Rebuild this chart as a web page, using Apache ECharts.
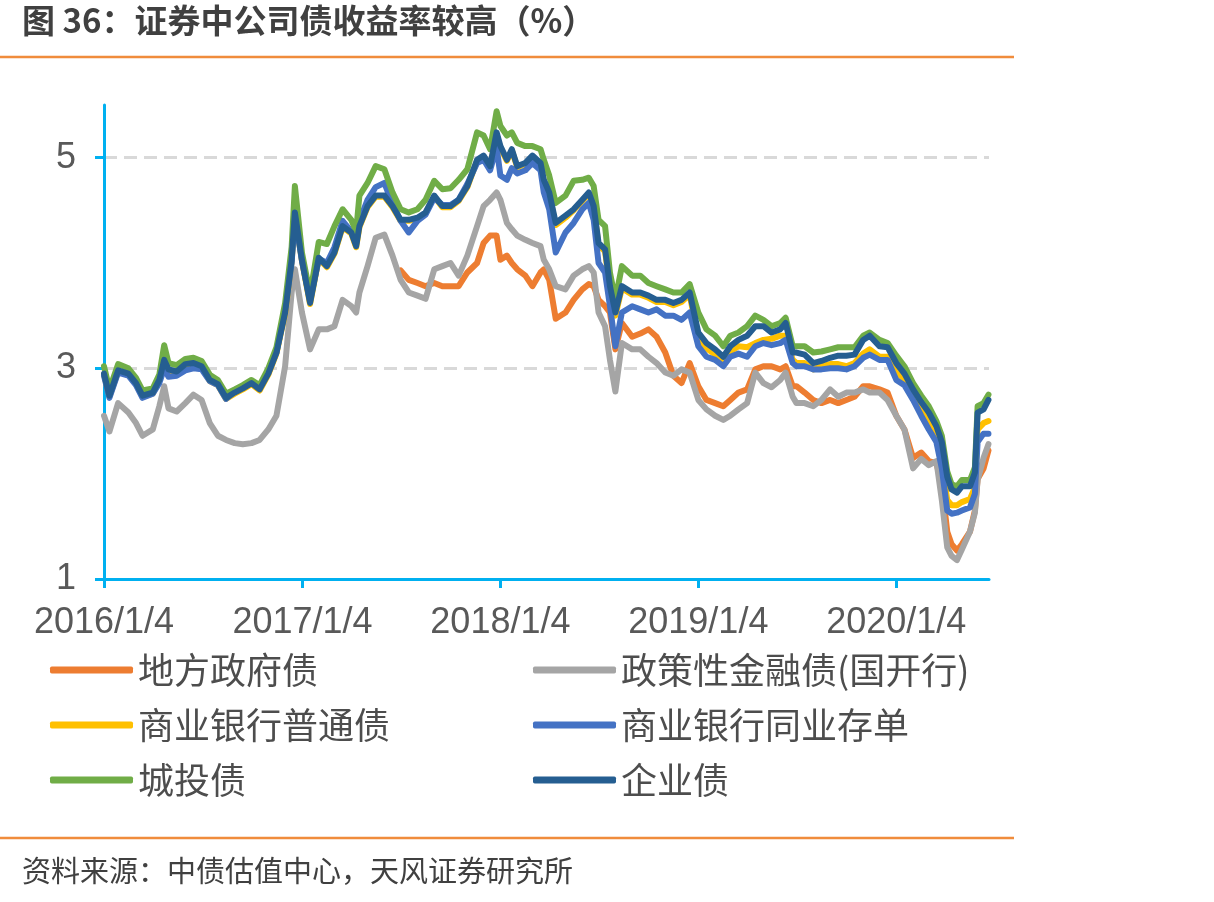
<!DOCTYPE html>
<html>
<head>
<meta charset="utf-8">
<script src="https://cdn.jsdelivr.net/npm/echarts@6/dist/echarts.min.js"></script>
<style>
  html, body { margin: 0; padding: 0; background: #fff; }
  #main { width: 1214px; height: 902px; }
</style>
</head>
<body>
<div id="main"></div>
<script>
// 序列名称（图例顺序）
var seriesNames = ['地方政府债', '政策性金融债(国开行)', '商业银行普通债', '商业银行同业存单', '城投债', '企业债'];
var seriesColors = ['#ED7D31', '#A5A5A5', '#FFC000', '#4472C4', '#70AD47', '#255E91'];

// x轴刻度
var xTickDates = ['2016-01-04', '2017-01-04', '2018-01-04', '2019-01-04', '2020-01-04'];
var xTickLabels = ['2016/1/4', '2017/1/4', '2018/1/4', '2019/1/4', '2020/1/4'];
var yTicks = [1, 3, 5];

var dates = [
    '2016-01-04','2016-01-14','2016-01-30','2016-02-18','2016-03-03','2016-03-15','2016-04-03','2016-04-15','2016-04-24','2016-05-02','2016-05-17','2016-06-02','2016-06-17','2016-07-02','2016-07-17','2016-08-01','2016-08-16','2016-09-01','2016-09-16','2016-10-02','2016-10-17','2016-11-02','2016-11-17','2016-12-03','2016-12-15','2016-12-21',
    '2017-01-03','2017-01-18','2017-02-03','2017-02-18','2017-03-04','2017-03-19','2017-04-04','2017-04-13','2017-04-19','2017-05-04','2017-05-19','2017-06-04','2017-06-19','2017-07-04','2017-07-19','2017-08-04','2017-08-19','2017-09-04','2017-09-19','2017-10-04','2017-10-19','2017-11-04','2017-11-22','2017-12-04','2017-12-16','2017-12-28',
    '2018-01-04','2018-01-16','2018-01-25','2018-02-04','2018-02-19','2018-03-04','2018-03-19','2018-03-25','2018-04-04','2018-04-16','2018-05-04','2018-05-19','2018-06-04','2018-06-16','2018-06-25','2018-07-04','2018-07-16','2018-07-25','2018-08-04','2018-08-16','2018-09-04','2018-09-19','2018-10-04','2018-10-19','2018-11-04','2018-11-19','2018-12-04','2018-12-19',
    '2019-01-04','2019-01-19','2019-02-04','2019-02-19','2019-03-04','2019-03-19','2019-04-04','2019-04-19','2019-05-04','2019-05-19','2019-06-04','2019-06-14','2019-06-27','2019-07-04','2019-07-19','2019-08-04','2019-08-19','2019-09-04','2019-09-19','2019-10-04','2019-10-19','2019-11-04','2019-11-16','2019-12-04','2019-12-19',
    '2020-01-04','2020-01-19','2020-02-04','2020-02-19','2020-03-04','2020-03-18','2020-03-28','2020-04-07','2020-04-15','2020-04-25','2020-05-04','2020-05-19','2020-05-28','2020-06-02','2020-06-13','2020-06-22'
];

// 地方政府债（2017年7月起有数据）
var localGov = [
    null,null,null,null,null,null,null,null,null,null,null,null,null,null,null,null,null,null,null,null,null,null,null,null,null,null,
    null,null,null,null,null,null,null,null,null,null,null,null,null,3.93,3.84,3.81,3.78,3.81,3.78,3.78,3.78,3.91,4.00,4.19,4.26,4.26,
    4.03,4.07,4.00,3.94,3.88,3.78,3.91,3.94,3.84,3.47,3.53,3.65,3.75,3.80,3.78,3.65,3.59,3.53,3.18,3.43,3.30,3.33,3.37,3.30,3.15,2.93,2.86,3.05,
    2.83,2.70,2.67,2.64,2.70,2.77,2.80,2.99,3.02,3.02,2.99,3.02,2.83,2.83,2.77,2.70,2.67,2.70,2.67,2.70,2.73,2.83,2.83,2.80,2.77,
    2.55,2.42,2.15,2.20,2.12,2.10,1.90,1.45,1.33,1.27,1.33,1.45,1.65,1.95,2.05,2.22
];
// 政策性金融债(国开行)
var policyBank = [
    2.55,2.40,2.67,2.58,2.48,2.36,2.42,2.64,2.83,2.62,2.59,2.67,2.75,2.70,2.48,2.36,2.32,2.29,2.28,2.29,2.32,2.42,2.55,3.02,3.72,3.94,
    3.53,3.18,3.37,3.37,3.40,3.65,3.59,3.53,3.72,3.97,4.24,4.27,4.07,3.84,3.72,3.69,3.66,3.94,3.97,4.00,3.88,4.07,4.35,4.54,4.60,4.67,
    4.60,4.38,4.32,4.26,4.22,4.19,4.16,4.03,3.94,3.78,3.75,3.88,3.94,3.97,3.91,3.53,3.40,3.08,2.78,3.24,3.18,3.18,3.11,3.05,2.96,2.93,2.99,2.96,
    2.70,2.61,2.55,2.51,2.55,2.61,2.67,2.96,2.86,2.82,2.89,2.96,2.73,2.67,2.67,2.64,2.70,2.80,2.73,2.77,2.77,2.80,2.77,2.77,2.70,
    2.55,2.42,2.05,2.14,2.08,2.12,1.75,1.30,1.22,1.18,1.28,1.45,1.63,1.94,2.15,2.28
];
// 商业银行普通债
var bankBond = [
    2.94,2.73,2.97,2.94,2.85,2.73,2.76,2.88,3.06,2.98,2.96,3.03,3.04,3.01,2.88,2.84,2.71,2.76,2.80,2.85,2.79,2.94,3.14,3.52,4.01,4.46,
    4.02,3.61,4.04,3.96,4.09,4.34,4.28,4.15,4.34,4.53,4.63,4.63,4.53,4.40,4.40,4.42,4.47,4.63,4.53,4.53,4.59,4.72,4.97,5.01,4.91,5.22,
    5.09,4.97,5.07,4.91,4.94,5.01,4.94,4.78,4.65,4.36,4.43,4.50,4.59,4.66,4.53,4.17,4.11,3.76,3.50,3.76,3.70,3.70,3.67,3.63,3.63,3.60,3.63,3.70,
    3.28,3.19,3.13,3.07,3.16,3.21,3.20,3.24,3.27,3.28,3.31,3.31,3.08,3.05,3.05,2.99,3.02,3.04,3.04,3.02,3.05,3.14,3.18,3.11,3.11,
    2.96,2.90,2.74,2.60,2.48,2.36,2.12,1.75,1.70,1.70,1.73,1.76,1.87,2.42,2.48,2.50
];
// 商业银行同业存单
var ncd = [
    2.93,2.72,2.96,2.93,2.84,2.72,2.76,2.86,3.00,2.92,2.93,2.98,3.00,2.99,2.88,2.84,2.71,2.78,2.82,2.86,2.82,2.96,3.15,3.55,4.00,4.45,
    4.02,3.64,4.04,4.00,4.15,4.40,4.30,4.18,4.40,4.60,4.72,4.76,4.56,4.40,4.29,4.40,4.46,4.62,4.55,4.55,4.60,4.75,4.95,4.98,4.88,5.10,
    4.83,4.79,4.90,4.85,4.88,4.95,4.88,4.67,4.51,4.10,4.29,4.38,4.51,4.57,4.41,4.00,3.91,3.59,3.21,3.53,3.59,3.56,3.53,3.56,3.50,3.50,3.46,3.53,
    3.21,3.11,3.08,3.02,3.11,3.14,3.11,3.21,3.24,3.22,3.24,3.27,3.05,3.02,3.02,2.99,2.99,3.00,3.00,2.99,3.02,3.10,3.13,3.08,3.08,
    2.89,2.84,2.70,2.55,2.42,2.30,2.05,1.65,1.62,1.63,1.65,1.68,1.81,2.30,2.38,2.38
];
// 城投债
var lgfv = [
    3.02,2.80,3.04,3.00,2.91,2.79,2.81,2.94,3.22,3.05,3.03,3.09,3.10,3.07,2.94,2.89,2.76,2.80,2.84,2.89,2.84,3.00,3.20,3.62,4.15,4.73,
    4.10,3.70,4.20,4.18,4.35,4.51,4.41,4.30,4.64,4.76,4.92,4.89,4.67,4.51,4.48,4.51,4.60,4.78,4.70,4.71,4.79,4.89,5.24,5.21,5.08,5.44,
    5.30,5.21,5.24,5.14,5.11,5.11,5.08,4.98,4.83,4.57,4.64,4.78,4.79,4.81,4.73,4.41,4.35,3.91,3.65,3.97,3.88,3.88,3.81,3.78,3.75,3.72,3.72,3.80,
    3.53,3.37,3.31,3.21,3.31,3.34,3.40,3.50,3.46,3.40,3.43,3.48,3.21,3.21,3.21,3.15,3.16,3.18,3.20,3.20,3.20,3.31,3.34,3.27,3.24,
    3.12,3.02,2.86,2.74,2.64,2.50,2.36,2.02,1.90,1.88,1.94,1.94,2.06,2.64,2.67,2.75
];
// 企业债
var corpBond = [
    2.95,2.74,2.98,2.95,2.86,2.74,2.77,2.89,3.08,2.99,2.97,3.04,3.05,3.02,2.89,2.85,2.72,2.77,2.81,2.86,2.80,2.95,3.15,3.53,4.03,4.48,
    4.03,3.62,4.05,3.97,4.10,4.35,4.29,4.16,4.35,4.54,4.64,4.64,4.54,4.41,4.41,4.43,4.48,4.64,4.54,4.54,4.60,4.73,4.98,5.02,4.92,5.24,
    5.11,4.98,5.08,4.92,4.95,5.02,4.95,4.79,4.67,4.38,4.45,4.51,4.60,4.67,4.54,4.19,4.13,3.78,3.53,3.78,3.72,3.72,3.69,3.65,3.65,3.62,3.65,3.72,
    3.34,3.24,3.18,3.11,3.21,3.27,3.31,3.40,3.40,3.34,3.37,3.43,3.15,3.15,3.13,3.05,3.07,3.10,3.12,3.12,3.13,3.27,3.31,3.21,3.20,
    3.05,2.95,2.80,2.68,2.58,2.45,2.30,1.97,1.85,1.82,1.88,1.88,2.01,2.58,2.61,2.70
];

var allValues = [localGov, policyBank, bankBond, ncd, lgfv, corpBond];

// 日期 -> 距 2016/1/4 的天数
function dayOffset(d) {
    return Math.round((Date.parse(d) - Date.parse('2016-01-04')) / 86400000);
}
var xTickDays = xTickDates.map(dayOffset);
var xMax = dayOffset('2020-06-23');

var axisBlue = '#00B0F0';
var labelGray = '#595959';

var series = allValues.map(function (vals, k) {
    return {
        name: seriesNames[k],
        type: 'line',
        showSymbol: false,
        symbol: 'none',
        connectNulls: false,
        lineStyle: { width: 6, color: seriesColors[k], join: 'round', cap: 'round' },
        itemStyle: { color: seriesColors[k] },
        data: dates.map(function (d, i) { return [dayOffset(d), vals[i]]; })
    };
});

var legendBase = {
    orient: 'vertical',
    top: 652,
    padding: 0,
    itemWidth: 83,
    itemHeight: 7,
    itemGap: 19,
    icon: 'roundRect',
    selectedMode: false,
    textStyle: { fontSize: 36, lineHeight: 36, color: '#4D4D4D', fontFamily: 'Noto Sans CJK SC' }
};

var myChart = echarts.init(document.getElementById('main'));
var option = {
    animation: false,
    backgroundColor: '#fff',
    color: seriesColors,
    grid: { left: 104, right: 225, top: 105, bottom: 323, containLabel: false },
    xAxis: {
        type: 'value',
        min: 0,
        max: xMax,
        axisLine: { show: true, lineStyle: { color: axisBlue, width: 3 } },
        axisTick: { show: true, customValues: xTickDays, length: 9, lineStyle: { color: axisBlue, width: 3 } },
        axisLabel: {
            customValues: xTickDays,
            margin: 26,
            color: labelGray,
            fontSize: 36,
            fontFamily: 'Liberation Sans',
            formatter: function (v) {
                var i = xTickDays.indexOf(v);
                return i >= 0 ? xTickLabels[i] : '';
            }
        },
        splitLine: { show: false }
    },
    yAxis: {
        type: 'value',
        min: 1,
        max: 5.5,
        interval: 2,
        axisLine: { show: true, lineStyle: { color: axisBlue, width: 3 } },
        axisTick: { show: true, customValues: yTicks, length: 9, lineStyle: { color: axisBlue, width: 3 } },
        axisLabel: {
            customValues: yTicks,
            margin: 28,
            color: labelGray,
            fontSize: 36,
            fontFamily: 'Liberation Sans'
        },
        splitLine: { show: true, lineStyle: { color: '#D9D9D9', width: 3, type: [13, 7] } }
    },
    legend: [
        Object.assign({ left: 50, data: [seriesNames[0], seriesNames[2], seriesNames[4]] }, legendBase),
        Object.assign({ left: 533, data: [seriesNames[1], seriesNames[3], seriesNames[5]] }, legendBase)
    ],
    graphic: [
        {
            type: 'text', left: 22, top: 4,
            style: { text: '图 36：证券中公司债收益率较高（%）', fontSize: 33, fontWeight: 'bold', fontFamily: 'Noto Sans CJK SC', fill: '#404040' }
        },
        { type: 'line', shape: { x1: 0, y1: 57, x2: 1014, y2: 57 }, style: { stroke: '#F08C3C', lineWidth: 2.5 } },
        { type: 'line', shape: { x1: 0, y1: 838, x2: 1014, y2: 838 }, style: { stroke: '#F08C3C', lineWidth: 2.5 } },
        {
            type: 'text', left: 22, top: 856,
            style: { text: '资料来源：中债估值中心，天风证券研究所', fontSize: 29, fontFamily: 'Noto Sans CJK SC', fill: '#404040' }
        }
    ],
    series: series
};
myChart.setOption(option);
window.addEventListener('resize', function () {
    myChart.resize();
});
</script>
</body>
</html>
